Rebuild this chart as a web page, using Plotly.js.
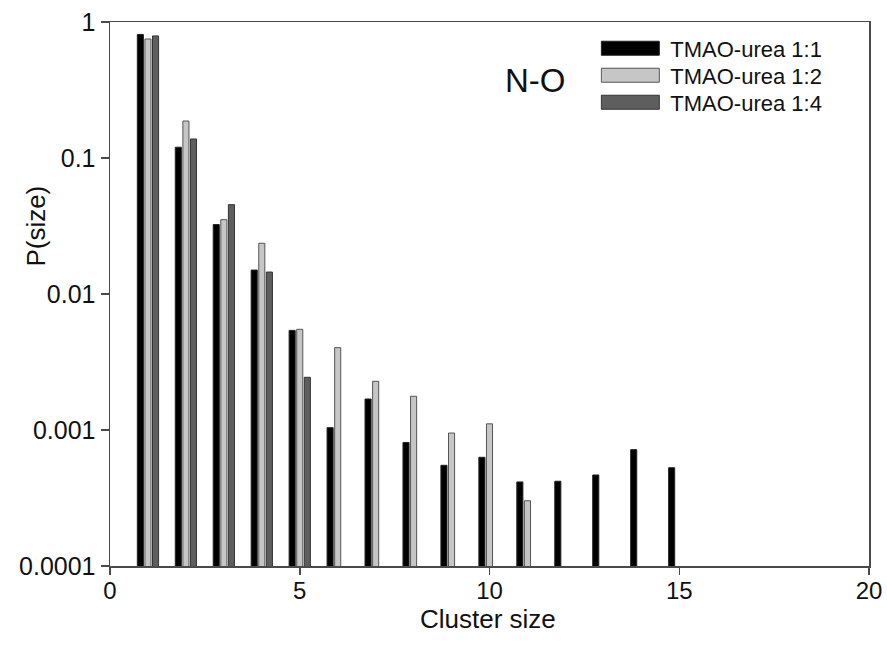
<!DOCTYPE html>
<html>
<head>
<meta charset="utf-8">
<script src="https://cdn.plot.ly/plotly-3.0.1.min.js"></script>
<style>html,body{margin:0;padding:0;background:#fff;}#chart{width:887px;height:645px;}</style>
</head>
<body>
<div id="chart"></div>
<script>
// Cluster sizes (x categories)
const sizes11 = [1,2,3,4,5,6,7,8,9,10,11,12,13,14,15];
const sizes12 = [1,2,3,4,5,6,7,8,9,10,11];
const sizes14 = [1,2,3,4,5];
// P(size) values
const p11 = [0.81,0.120,0.0324,0.0150,0.0054,0.00104,0.00169,0.00081,0.00055,0.00063,0.000415,0.00042,0.000467,0.000717,0.000528];
const p12 = [0.75,0.187,0.0352,0.0236,0.0055,0.00403,0.00228,0.00177,0.00095,0.00111,0.000302];
const p14 = [0.79,0.138,0.0454,0.0145,0.00244];
const seriesNames = ['TMAO-urea 1:1','TMAO-urea 1:2','TMAO-urea 1:4'];
const yTickVals = [0.0001,0.001,0.01,0.1,1];
const yTickText = ['0.0001','0.001','0.01','0.1','1'];
const xTickVals = [0,5,10,15,20];
const xTitle = 'Cluster size';
const yTitle = 'P(size)';
const panelLabel = 'N-O';

const FONT = 'Liberation Sans, Arial, sans-serif';
const AX = '#4a4a4a';
const TXT = '#111';

const traces = [
  {type:'bar', name:seriesNames[0], x:sizes11, y:p11, marker:{color:'#000000', line:{color:'#222222', width:1}}},
  {type:'bar', name:seriesNames[1], x:sizes12, y:p12, marker:{color:'#c6c6c6', line:{color:'#555555', width:1}}},
  {type:'bar', name:seriesNames[2], x:sizes14, y:p14, marker:{color:'#5e5e5e', line:{color:'#333333', width:1}}}
];

const layout = {
  width:887, height:645,
  margin:{l:109.5, r:18, t:22, b:79},
  paper_bgcolor:'#fff', plot_bgcolor:'#fff',
  barmode:'group', bargap:0.4, bargroupgap:0.2,
  font:{family:FONT, color:TXT, size:25},
  showlegend:true,
  legend:{x:0.646, xanchor:'left', y:0.99, yanchor:'top', bgcolor:'rgba(0,0,0,0)',
          font:{family:FONT, size:22, color:TXT}, itemwidth:60, tracegroupgap:0},
  xaxis:{range:[0,20], tickvals:xTickVals, ticks:'outside', ticklen:7, tickwidth:1.5, tickcolor:AX,
         showline:true, linecolor:AX, linewidth:1.5, mirror:true, showgrid:false, zeroline:false,
         tickfont:{family:FONT, size:24, color:TXT}, ticklabelstandoff:-4},
  yaxis:{type:'log', range:[-4,0], tickvals:yTickVals, ticktext:yTickText, ticks:'outside', ticklen:8, tickwidth:1.5, tickcolor:AX,
         showline:true, linecolor:AX, linewidth:1.5, mirror:true, showgrid:false, zeroline:false,
         tickfont:{family:FONT, size:25, color:TXT}},
  annotations:[
    {text:panelLabel, xref:'paper', yref:'paper', x:0.56, y:0.893, xanchor:'center', yanchor:'middle',
     showarrow:false, font:{family:FONT, size:33, color:TXT}},
    {text:xTitle, xref:'paper', yref:'paper', x:0.498, y:-0.0974, xanchor:'center', yanchor:'middle',
     showarrow:false, font:{family:FONT, size:26, color:TXT}},
    {text:yTitle, xref:'paper', yref:'paper', x:-0.098, y:0.625, xanchor:'center', yanchor:'middle', textangle:-90,
     showarrow:false, font:{family:FONT, size:26, color:TXT}}
  ]
};

Plotly.newPlot('chart', traces, layout, {displayModeBar:false, staticPlot:true}).then(function(gd){
  gd.querySelectorAll('.legend .legendpoints path').forEach(function(p){
    p.setAttribute('d','M24,7H-34V-7H24Z');
  });
  // tighten legend row spacing to match the reference
  const items = gd.querySelectorAll('.legend .traces');
  let x0 = null, y0 = null;
  items.forEach(function(g, i){
    const m = /translate\(\s*([-\d.]+)[ ,]+([-\d.]+)\s*\)/.exec(g.getAttribute('transform') || '');
    if (!m) return;
    if (i === 0) { x0 = parseFloat(m[1]); y0 = parseFloat(m[2]); }
    g.setAttribute('transform', 'translate(' + x0 + ',' + (y0 + i*27) + ')');
  });
});
</script>
</body>
</html>
